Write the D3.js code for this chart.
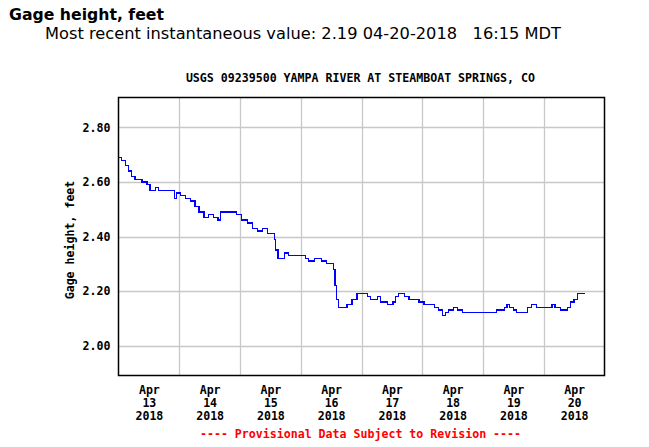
<!DOCTYPE html>
<html><head><meta charset="utf-8">
<script src="https://cdn.jsdelivr.net/npm/d3@7"></script>
<style>
body{margin:0;background:#fff;}
svg{display:block;}
</style></head>
<body>
<svg id="chart" width="649" height="447"></svg>
<script>
const times = [
"2018-04-13 00:00","2018-04-13 01:15","2018-04-13 02:45","2018-04-13 04:00","2018-04-13 05:15","2018-04-13 06:30","2018-04-13 08:30","2018-04-13 09:15","2018-04-13 11:15","2018-04-13 12:30","2018-04-13 14:30","2018-04-13 15:45","2018-04-13 18:30","2018-04-13 21:00","2018-04-13 22:15","2018-04-13 23:00",
"2018-04-14 00:30","2018-04-14 02:30","2018-04-14 04:30","2018-04-14 06:15","2018-04-14 07:45","2018-04-14 09:45","2018-04-14 11:30","2018-04-14 13:30","2018-04-14 15:00","2018-04-14 15:15","2018-04-14 16:15","2018-04-14 18:15","2018-04-14 21:00","2018-04-14 22:45","2018-04-14 23:45",
"2018-04-15 00:30","2018-04-15 01:00","2018-04-15 03:00","2018-04-15 05:00","2018-04-15 07:00","2018-04-15 09:00","2018-04-15 11:00","2018-04-15 13:00","2018-04-15 13:30","2018-04-15 14:00","2018-04-15 15:00","2018-04-15 16:15","2018-04-15 17:30","2018-04-15 19:15","2018-04-15 21:00","2018-04-15 23:45",
"2018-04-16 01:45","2018-04-16 03:00","2018-04-16 05:30","2018-04-16 08:15","2018-04-16 10:15","2018-04-16 12:00","2018-04-16 13:00","2018-04-16 13:30","2018-04-16 14:15","2018-04-16 15:00","2018-04-16 17:00","2018-04-16 18:15","2018-04-16 20:15","2018-04-16 22:15",
"2018-04-17 00:15","2018-04-17 01:00","2018-04-17 02:15","2018-04-17 03:30","2018-04-17 05:00","2018-04-17 06:15","2018-04-17 07:30","2018-04-17 09:00","2018-04-17 10:15","2018-04-17 11:30","2018-04-17 12:30","2018-04-17 13:30","2018-04-17 14:45","2018-04-17 16:15","2018-04-17 17:00","2018-04-17 18:45","2018-04-17 20:45","2018-04-17 22:45",
"2018-04-18 00:45","2018-04-18 02:45","2018-04-18 04:45","2018-04-18 06:30","2018-04-18 08:00","2018-04-18 09:15","2018-04-18 10:30","2018-04-18 12:15","2018-04-18 14:00","2018-04-18 16:00","2018-04-18 18:00","2018-04-18 20:30","2018-04-18 22:30",
"2018-04-19 01:15","2018-04-19 03:15","2018-04-19 05:15","2018-04-19 07:15","2018-04-19 08:30","2018-04-19 09:30","2018-04-19 10:30","2018-04-19 12:00","2018-04-19 13:15","2018-04-19 15:15","2018-04-19 16:30","2018-04-19 17:30","2018-04-19 19:15","2018-04-19 21:15","2018-04-19 23:15",
"2018-04-20 00:30","2018-04-20 02:00","2018-04-20 03:15","2018-04-20 04:30","2018-04-20 06:30","2018-04-20 08:00","2018-04-20 09:15","2018-04-20 10:30","2018-04-20 12:00","2018-04-20 13:15","2018-04-20 14:30","2018-04-20 15:30","2018-04-20 16:15"
];
const gageHeight = [
2.69,2.68,2.66,2.64,2.62,2.61,2.61,2.60,2.59,2.57,2.58,2.57,2.57,2.57,2.54,2.56,
2.55,2.54,2.53,2.51,2.49,2.47,2.48,2.47,2.47,2.46,2.49,2.49,2.49,2.48,2.48,
2.46,2.46,2.45,2.43,2.42,2.43,2.41,2.41,2.39,2.35,2.32,2.32,2.34,2.33,2.33,2.33,
2.32,2.31,2.32,2.31,2.30,2.30,2.28,2.22,2.17,2.14,2.14,2.15,2.17,2.19,
2.19,2.19,2.18,2.17,2.17,2.18,2.16,2.16,2.15,2.15,2.16,2.18,2.19,2.19,2.18,2.17,2.17,2.16,
2.15,2.15,2.14,2.13,2.11,2.12,2.13,2.14,2.13,2.12,2.12,2.12,2.12,
2.12,2.12,2.13,2.13,2.14,2.15,2.14,2.13,2.12,2.12,2.12,2.14,2.15,2.14,2.14,
2.14,2.14,2.15,2.14,2.13,2.13,2.14,2.16,2.17,2.19,2.19,2.19,2.19
];
const yTicks = [2.00, 2.20, 2.40, 2.60, 2.80];
const xTickDays = ["2018-04-13","2018-04-14","2018-04-15","2018-04-16","2018-04-17","2018-04-18","2018-04-19","2018-04-20","2018-04-21"];
const xDomain = ["2018-04-13 00:00","2018-04-21 00:00"];
const yDomain = [1.89, 2.91];
const headerTitle = "Gage height, feet";
const headerSub = "Most recent instantaneous value: 2.19 04-20-2018   16:15 MDT";
const chartTitle = "USGS 09239500 YAMPA RIVER AT STEAMBOAT SPRINGS, CO";
const yLabel = "Gage height, feet";
const footer = "---- Provisional Data Subject to Revision ----";

const parse = d3.timeParse("%Y-%m-%d %H:%M");
const parseDay = d3.timeParse("%Y-%m-%d");
const data = times.map((t,i)=>({t:parse(t), v:gageHeight[i]}));

const svg = d3.select("#chart");
const M = {left:118.5, top:97.5, right:604.5, bottom:375.5};
const x = d3.scaleTime().domain(xDomain.map(parse)).range([M.left, M.right]);
const y = d3.scaleLinear().domain(yDomain).range([M.bottom, M.top]);
const mono = "'DejaVu Sans Mono', monospace";
const sans = "'DejaVu Sans', Verdana, sans-serif";

// header
svg.append("text").attr("x",9).attr("y",20).attr("font-family",sans)
  .attr("font-weight","bold").attr("font-size",16.5).attr("fill","#000")
  .attr("textLength",155).attr("lengthAdjust","spacingAndGlyphs").text(headerTitle);
svg.append("text").attr("x",45).attr("y",38.5).attr("font-family",sans)
  .attr("font-size",16.2).attr("fill","#000").style("white-space","pre")
  .attr("textLength",516).attr("lengthAdjust","spacingAndGlyphs").text(headerSub);
svg.append("text").attr("x",360.4).attr("y",82.3).attr("text-anchor","middle").attr("font-family",mono)
  .attr("font-weight","bold").attr("font-size",11.6).attr("fill","#000").text(chartTitle);

// grid
const g = svg.append("g");
g.selectAll("line.vg").data(xTickDays.slice(1,-1).map(parseDay)).enter().append("line")
  .attr("x1",d=>Math.round(x(d))+0.5).attr("x2",d=>Math.round(x(d))+0.5)
  .attr("y1",M.top).attr("y2",M.bottom).attr("stroke","#c8c8c8").attr("stroke-width",1.3);
g.selectAll("line.hg").data(yTicks).enter().append("line")
  .attr("y1",d=>Math.round(y(d))+0.5).attr("y2",d=>Math.round(y(d))+0.5)
  .attr("x1",M.left).attr("x2",M.right).attr("stroke","#c8c8c8").attr("stroke-width",1.3);

// y axis labels
const yAxis = d3.axisLeft(y).tickValues(yTicks).tickSize(0).tickPadding(8).tickFormat(d3.format(".2f"));
const ya = svg.append("g").attr("transform",`translate(${M.left},0)`).call(yAxis);
ya.select(".domain").remove();
ya.selectAll("text").attr("font-family",mono).attr("font-weight","bold").attr("font-size",11.6).attr("fill","#000");

// x axis labels at noon
const noonDays = xTickDays.slice(0,-1).map(d=>d3.timeHour.offset(parseDay(d),12));
const xAxis = d3.axisBottom(x).tickValues(noonDays).tickSize(0).tickFormat("");
const xa = svg.append("g").attr("transform",`translate(0,${M.bottom})`).call(xAxis);
xa.select(".domain").remove();
xa.selectAll(".tick").each(function(d){
  const t = d3.select(this).append("text").attr("font-family",mono).attr("font-weight","bold")
    .attr("font-size",11.6).attr("fill","#000").attr("text-anchor","middle");
  t.append("tspan").attr("x",0).attr("y",18).text(d3.timeFormat("%b")(d));
  t.append("tspan").attr("x",0).attr("y",31).text(d3.timeFormat("%d")(d));
  t.append("tspan").attr("x",0).attr("y",44).text(d3.timeFormat("%Y")(d));
});

// y label
svg.append("text").attr("transform",`translate(74,240) rotate(-90)`).attr("text-anchor","middle")
  .attr("font-family",mono).attr("font-weight","bold").attr("font-size",11.6).attr("fill","#000").text(yLabel);

// line
const line = d3.line().curve(d3.curveStepAfter).x(d=>x(d.t)).y(d=>y(d.v));
svg.append("path").datum(data).attr("d",line).attr("fill","none").attr("stroke","#0000ff")
  .attr("stroke-width",1.3).attr("shape-rendering","crispEdges");

// frame
svg.append("rect").attr("x",M.left).attr("y",M.top).attr("width",M.right-M.left).attr("height",M.bottom-M.top)
  .attr("fill","none").attr("stroke","#000").attr("stroke-width",1.5);

// footer
svg.append("text").attr("x",360.5).attr("y",438).attr("text-anchor","middle").attr("font-family",mono)
  .attr("font-weight","bold").attr("font-size",11.6).attr("fill","#ff0000").style("white-space","pre").text(footer);
</script>
</body></html>
